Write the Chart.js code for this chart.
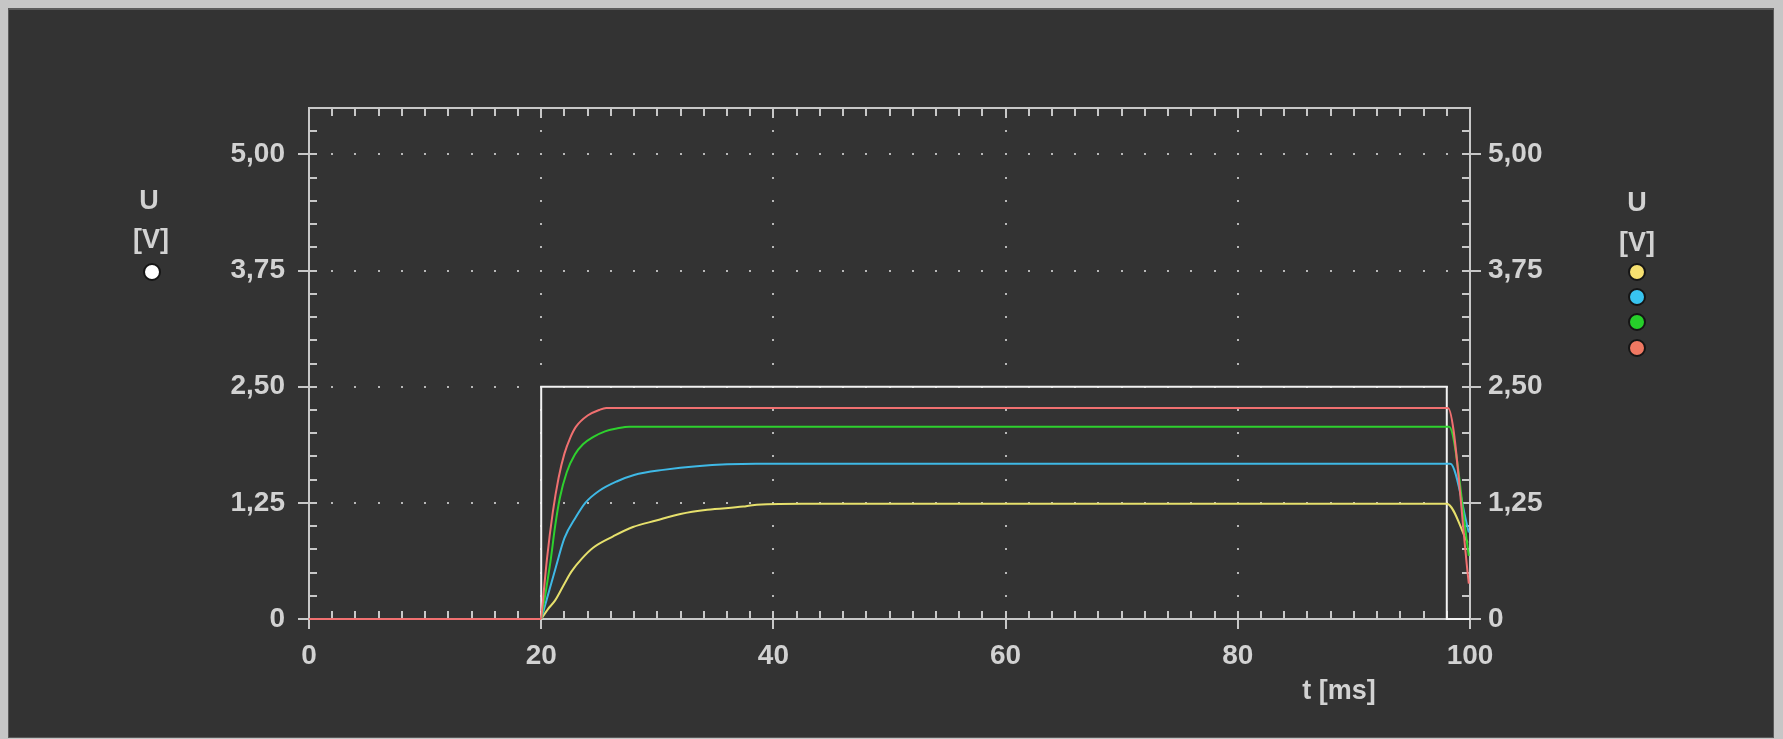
<!DOCTYPE html>
<html>
<head>
<meta charset="utf-8">
<script src="https://cdn.jsdelivr.net/npm/chart.js@4.4.1/dist/chart.umd.min.js"></script>
<style>
  html, body { margin: 0; padding: 0; background: #333333; overflow: hidden; }
  #wrap { position: relative; width: 1783px; height: 739px; }
  #grafico { position: absolute; left: 0; top: 0; }
  .rotulo {
    position: absolute; transform: translate(-50%, -50%);
    font-family: "Liberation Sans", Arial, sans-serif; font-weight: bold;
    font-size: 27px; color: #d2d2d2; white-space: nowrap; line-height: 1;
  }
  .bola {
    position: absolute; width: 14px; height: 14px; border-radius: 50%;
    border: 2px solid #151515; transform: translate(-50%, -50%);
  }
</style>
</head>
<body>
<div id="wrap">
  <canvas id="grafico" width="1783" height="739"></canvas>

  <div class="rotulo" style="left:149px; top:200px">U</div>
  <div class="rotulo" style="left:151px; top:239px">[V]</div>
  <div class="bola" style="left:152px; top:272px; background:#ffffff"></div>

  <div class="rotulo" style="left:1637px; top:202px">U</div>
  <div class="rotulo" style="left:1637px; top:242px">[V]</div>
  <div class="bola" style="left:1637px; top:272px; background:#f6e070"></div>
  <div class="bola" style="left:1637px; top:297px; background:#38c4f0"></div>
  <div class="bola" style="left:1637px; top:322px; background:#26cf2a"></div>
  <div class="bola" style="left:1637px; top:348px; background:#f07862"></div>

  <div class="rotulo" style="left:1339px; top:690px">t [ms]</div>
</div>

<script>
// =====================
// DADOS
// =====================
const xMajor = [0, 20, 40, 60, 80, 100];
const xLabels = ["0", "20", "40", "60", "80", "100"];
const yMajor = [0, 1.25, 2.5, 3.75, 5.0];
const yLabels = ["0", "1,25", "2,50", "3,75", "5,00"];

// entrada (degrau)
const tBranco = [0, 20, 20, 98, 98, 100];
const uBranco = [0, 0, 2.5, 2.5, 0, 0];

// trecho em zero antes do degrau (todas as saídas juntas, vermelho por cima)
const tRepouso = [0, 20];
const uRepouso = [0, 0];

const tVermelho = [20, 20.5, 21, 21.5, 22, 22.5, 23, 24, 25, 25.6, 98.1, 99.9];
const uVermelho = [0, 0.65, 1.15, 1.52, 1.78, 1.95, 2.07, 2.19, 2.25, 2.27, 2.27, 0.38];

const tVerde = [20, 20.4, 20.8, 21.2, 21.6, 22.2, 22.9, 23.6, 24.5, 25.5, 26.5, 27.6, 98.2, 99.9];
const uVerde = [0, 0.3, 0.62, 1.0, 1.3, 1.58, 1.77, 1.88, 1.96, 2.02, 2.05, 2.07, 2.07, 0.68];

const tAzul = [20, 20.5, 21.2, 22, 23, 23.8, 25, 26.5, 28, 30.5, 33.4, 38.5, 98.3, 99.9];
const uAzul = [0, 0.22, 0.53, 0.87, 1.1, 1.25, 1.38, 1.48, 1.55, 1.605, 1.645, 1.67, 1.67, 0.93];

const tAmarelo = [20, 20.6, 21.2, 22, 22.6, 23.5, 24.5, 26.2, 27.9, 29.9, 32, 34.3, 37.4, 38.2, 42.4, 98, 99.8];
const uAmarelo = [0, 0.11, 0.2, 0.38, 0.51, 0.65, 0.77, 0.89, 0.99, 1.06, 1.13, 1.175, 1.21, 1.225, 1.24, 1.24, 0.82];

function pontos(ts, us) {
    return ts.map((t, i) => ({ x: t, y: us[i] }));
}

// =====================
// MOLDURA, GRADE E MARCAS
// =====================
const COR_EIXO = "#c8c8c8";

const moldura = {
    id: "moldura",
    beforeDraw(chart) {
        let ctx = chart.ctx;
        ctx.save();
        ctx.fillStyle = "#c6c6c6";
        ctx.fillRect(0, 0, 1783, 739);
        ctx.fillStyle = "#5a5a5a";
        ctx.fillRect(8, 8, 1766, 730);
        ctx.fillStyle = "#333333";
        ctx.fillRect(9, 10, 1764, 727);
        ctx.restore();
    },
    beforeDatasetsDraw(chart) {
        let ctx = chart.ctx;
        let sx = chart.scales.x, sy = chart.scales.y;
        let a = chart.chartArea;
        let L = Math.round(a.left), R = Math.round(a.right);
        let T = Math.round(a.top), B = Math.round(a.bottom);
        ctx.save();

        // grade pontilhada
        ctx.fillStyle = "#b8b8b8";
        yMajor.slice(1).forEach(v => {
            let py = Math.round(sy.getPixelForValue(v));
            for (let t = 2; t < 100; t += 2) {
                ctx.fillRect(Math.round(sx.getPixelForValue(t)) - 1, py - 1, 2, 2);
            }
        });
        xMajor.slice(1, -1).forEach(v => {
            let px = Math.round(sx.getPixelForValue(v));
            for (let u = 0.25; u < 5.5; u += 0.25) {
                ctx.fillRect(px - 1, Math.round(sy.getPixelForValue(u)) - 1, 2, 2);
            }
        });

        // eixos
        ctx.strokeStyle = COR_EIXO;
        ctx.lineWidth = 2;
        ctx.beginPath();
        ctx.moveTo(L, B + 1); ctx.lineTo(L, T);
        ctx.lineTo(R, T); ctx.lineTo(R, B + 1);
        ctx.moveTo(L - 11, B); ctx.lineTo(R + 11, B);
        ctx.stroke();

        ctx.beginPath();
        // marcas em x (baixo e topo)
        for (let t = 0; t <= 100; t += 2) {
            let px = Math.round(sx.getPixelForValue(t));
            let maior = xMajor.includes(t);
            ctx.moveTo(px, B - 8); ctx.lineTo(px, maior ? B + 10 : B);
            ctx.moveTo(px, T); ctx.lineTo(px, T + (maior ? 10 : 8));
        }
        // marcas em y (esquerda e direita)
        for (let k = 0; k <= 22; k++) {
            let u = k * 0.25;
            let py = Math.round(sy.getPixelForValue(u));
            let maior = k % 5 === 0;
            ctx.moveTo(maior ? L - 11 : L, py); ctx.lineTo(L + 8, py);
            ctx.moveTo(R - 8, py); ctx.lineTo(maior ? R + 11 : R, py);
        }
        ctx.stroke();
        ctx.restore();
    }
};

// =====================
// GRÁFICO
// =====================
const fonte = { family: "'Liberation Sans', Arial, sans-serif", size: 28, weight: "bold" };

function serie(ts, us, cor, suave) {
    return {
        data: pontos(ts, us),
        borderColor: cor,
        borderWidth: 2,
        pointRadius: 0,
        fill: false,
        clip: false,
        tension: 0,
        cubicInterpolationMode: suave ? "monotone" : "default"
    };
}

new Chart(document.getElementById("grafico"), {
    type: "line",
    data: {
        datasets: [
            serie(tRepouso, uRepouso, "#f07070", false),
            serie(tVermelho, uVermelho, "#f07070", true),
            serie(tVerde, uVerde, "#2ed12e", true),
            serie(tAzul, uAzul, "#3fb9e6", true),
            serie(tAmarelo, uAmarelo, "#e6e06c", true),
            serie(tBranco, uBranco, "#f2f2f2", false)
        ]
    },
    options: {
        responsive: false,
        animation: false,
        devicePixelRatio: 1,
        layout: { padding: { top: 108, left: 0, right: 0, bottom: 0 } },
        plugins: { legend: { display: false }, tooltip: { enabled: false } },
        scales: {
            x: {
                type: "linear",
                min: 0, max: 100,
                afterBuildTicks: s => { s.ticks = xMajor.map(v => ({ value: v })); },
                afterFit: s => { s.height = 120; },
                grid: { display: false, drawTicks: false },
                border: { display: false },
                ticks: {
                    color: "#d2d2d2", font: fonte, padding: 20, maxRotation: 0,
                    callback: (v, i) => xLabels[i]
                }
            },
            y: {
                position: "left",
                min: 0, max: 5.5,
                afterBuildTicks: s => { s.ticks = yMajor.map(v => ({ value: v })); },
                afterFit: s => { s.width = 309; },
                grid: { display: false, drawTicks: false },
                border: { display: false },
                ticks: {
                    color: "#d2d2d2", font: fonte, padding: 24,
                    callback: (v, i) => yLabels[i]
                }
            },
            y2: {
                position: "right",
                min: 0, max: 5.5,
                afterBuildTicks: s => { s.ticks = yMajor.map(v => ({ value: v })); },
                afterFit: s => { s.width = 313; },
                grid: { display: false, drawTicks: false },
                border: { display: false },
                ticks: {
                    color: "#d2d2d2", font: fonte, padding: 18,
                    callback: (v, i) => yLabels[i]
                }
            }
        }
    },
    plugins: [moldura]
});
</script>
</body>
</html>
